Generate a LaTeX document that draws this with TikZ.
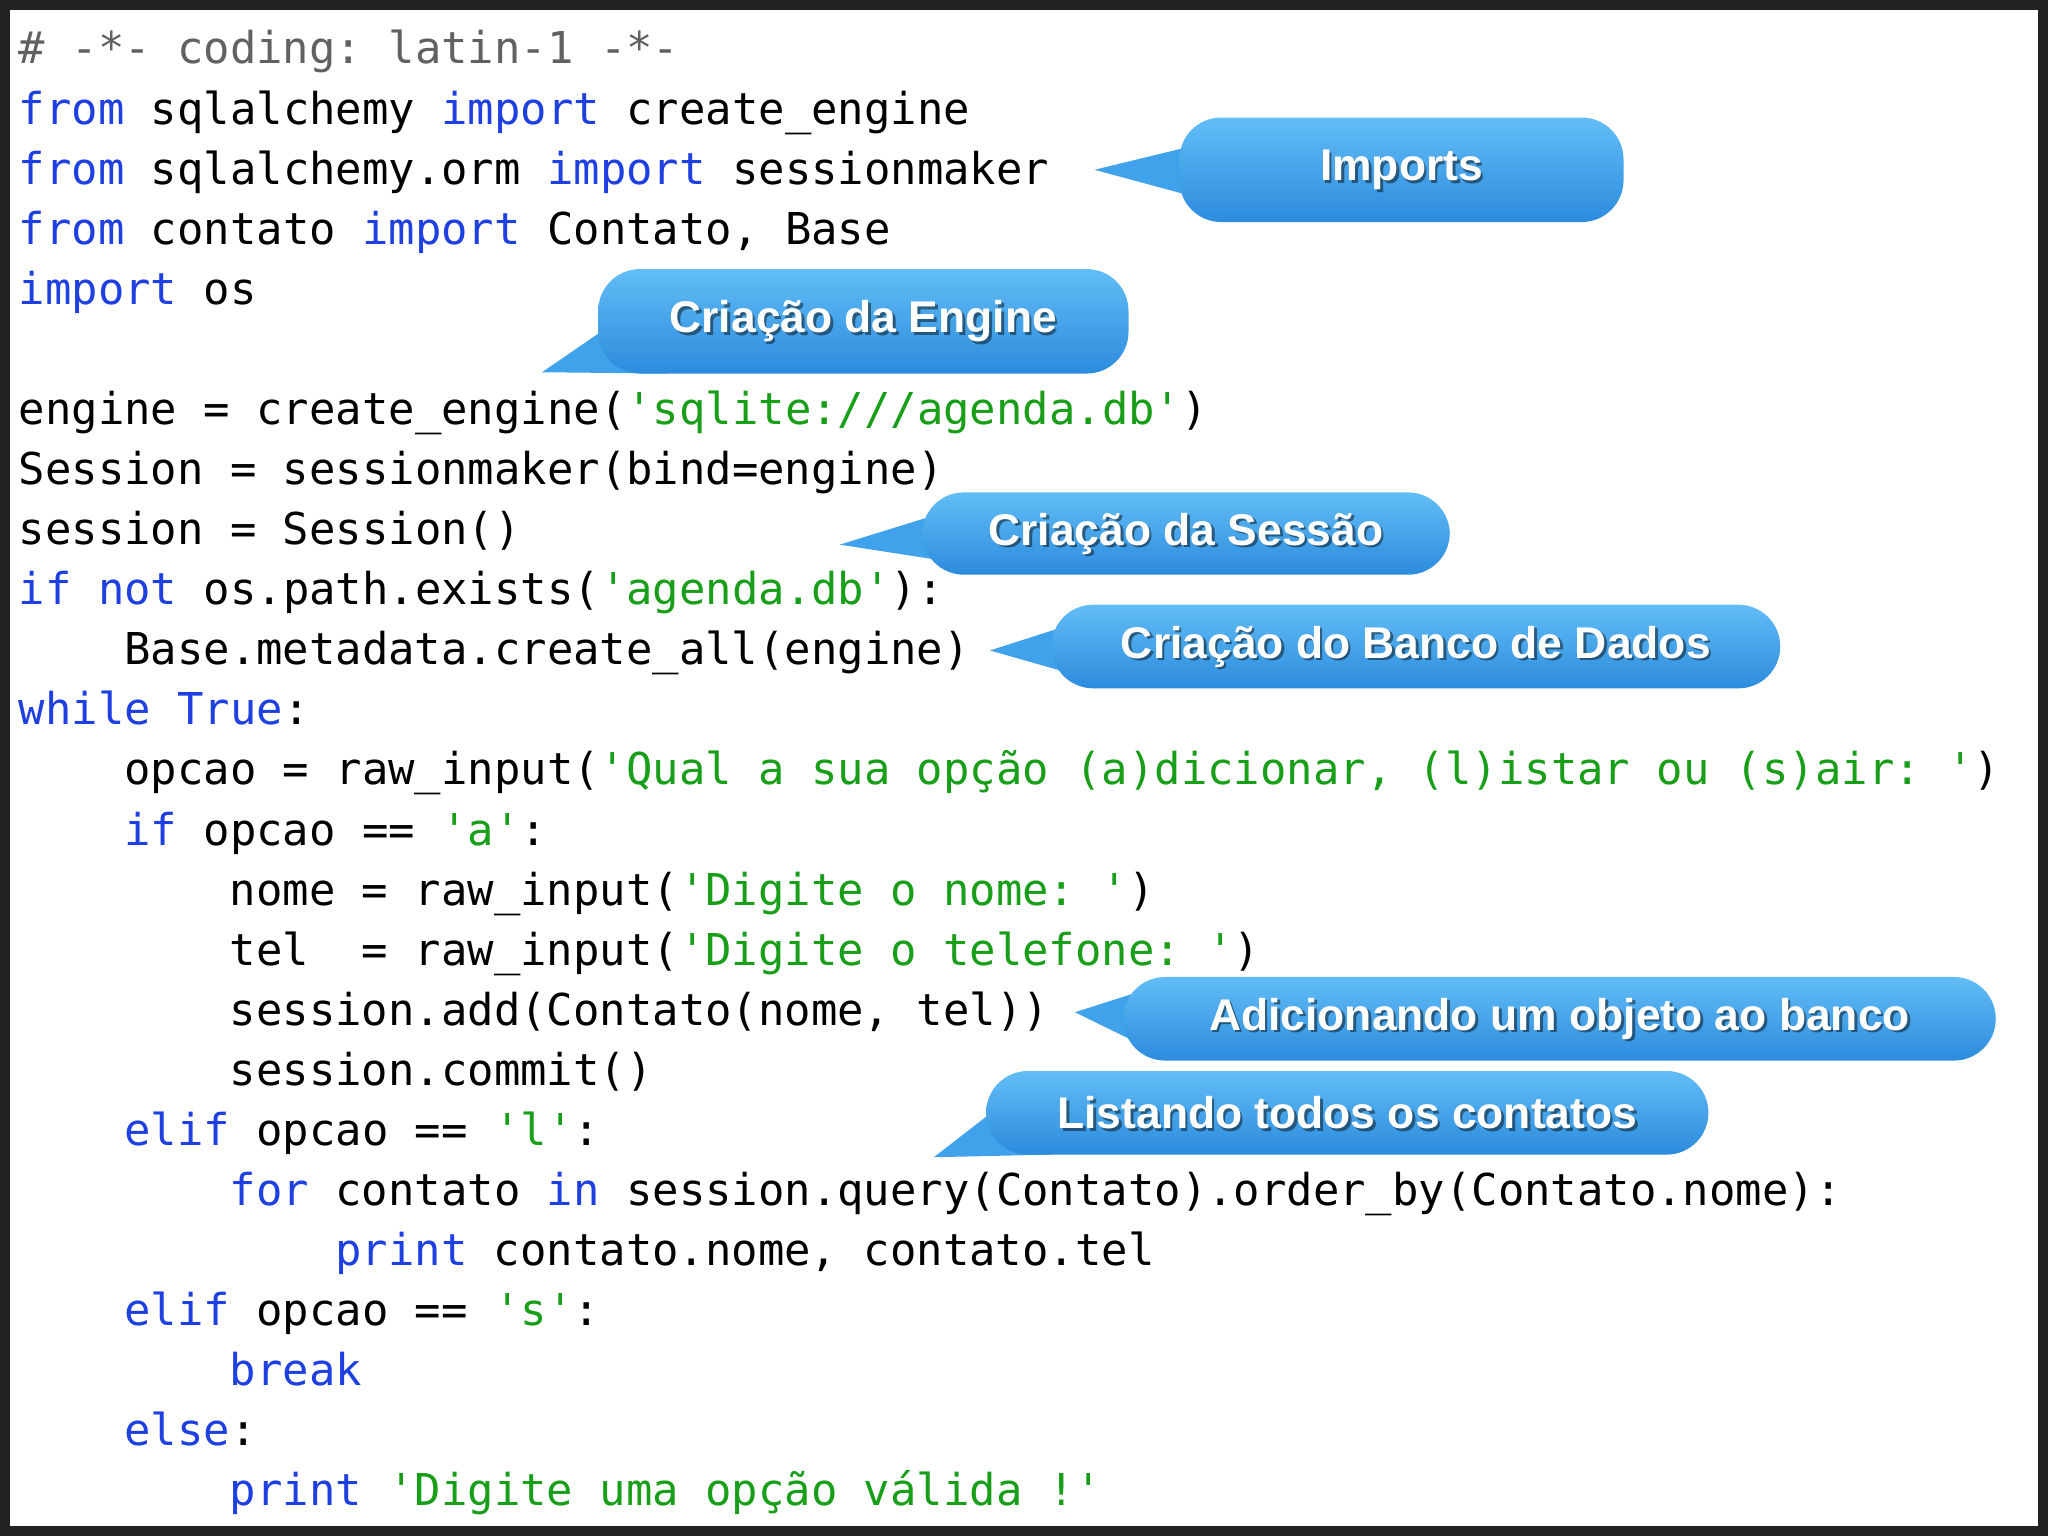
\documentclass[tikz,border=0pt]{standalone}
\usepackage{fontspec}
\setmonofont{DejaVu Sans Mono}
\newfontfamily\calloutfont{Liberation Sans}
\definecolor{kwc}{rgb}{0.12,0.25,0.88}
\definecolor{stc}{rgb}{0.1,0.62,0.1}
\definecolor{cmc}{rgb}{0.38,0.38,0.38}
\definecolor{bgc}{rgb}{0.13,0.13,0.14}
\definecolor{btop}{HTML}{62BDF6}
\definecolor{bbot}{HTML}{2C8BDD}
\definecolor{bmid}{HTML}{3FA2EA}
\newcommand\kw[1]{\textcolor{kwc}{#1}}
\newcommand\st[1]{\textcolor{stc}{#1}}
\newcommand\sq{\char39\relax}
\tikzset{
  codeline/.style={anchor=base west,inner sep=0pt,font=\ttfamily\fontsize{16.8}{20}\selectfont,text=black},
  ctext/.style={font=\calloutfont\bfseries\fontsize{17}{20}\selectfont,text=white,inner sep=0pt},
  cshadow/.style={font=\calloutfont\bfseries\fontsize{17}{20}\selectfont,text=black,opacity=0.45,inner sep=0pt}
}
\newcommand\callout[8]{% x1 y1 x2 y2 tip base1 base2 text
  \fill[bmid] #5 -- #6 -- #7 -- cycle;
  \shade[top color=btop,bottom color=bbot,rounded corners=16] (#1,#2) rectangle (#3,#4);
  \node[cshadow] at ({(#1+#3)/2+2},{(#2+#4)/2+2}) {#8};
  \node[ctext] at ({(#1+#3)/2},{(#2+#4)/2}) {#8};
}
\begin{document}
\begin{tikzpicture}[x=0.5pt,y=-0.5pt]
\useasboundingbox (0,0) rectangle (1568,1176);
\fill[bgc] (0,0) rectangle (1568,1176);
\fill[white] (8,8) rectangle (1560,1168);
\newcommand\cl[4]{\node[codeline] (#1) at ({14+#2*20.2},{38+46*#3+11}) {#4};}
\cl{l0}{0}{0}{\textcolor{cmc}{\# -*- coding: latin-1 -*-}}
\cl{l1}{0}{1}{\kw{from} sqlalchemy \kw{import} create\_engine}
\cl{l2}{0}{2}{\kw{from} sqlalchemy.orm \kw{import} sessionmaker}
\cl{l3}{0}{3}{\kw{from} contato \kw{import} Contato, Base}
\cl{l4}{0}{4}{\kw{import} os}
\cl{l6}{0}{6}{engine = create\_engine(\st{\sq sqlite:///agenda.db\sq})}
\cl{l7}{0}{7}{Session = sessionmaker(bind=engine)}
\cl{l8}{0}{8}{session = Session()}
\cl{l9}{0}{9}{\kw{if} \kw{not} os.path.exists(\st{\sq agenda.db\sq}):}
\cl{l10}{4}{10}{Base.metadata.create\_all(engine)}
\cl{l11}{0}{11}{\kw{while} \kw{True}:}
\cl{l12}{4}{12}{opcao = raw\_input(\st{\sq Qual a sua opção (a)dicionar, (l)istar ou (s)air: \sq})}
\cl{l13}{4}{13}{\kw{if} opcao == \st{\sq a\sq}:}
\cl{l14}{8}{14}{nome = raw\_input(\st{\sq Digite o nome: \sq})}
\cl{l15}{8}{15}{tel\ \ = raw\_input(\st{\sq Digite o telefone: \sq})}
\cl{l16}{8}{16}{session.add(Contato(nome, tel))}
\cl{l17}{8}{17}{session.commit()}
\cl{l18}{4}{18}{\kw{elif} opcao == \st{\sq l\sq}:}
\cl{l19}{8}{19}{\kw{for} contato \kw{in} session.query(Contato).order\_by(Contato.nome):}
\cl{l20}{12}{20}{\kw{print} contato.nome, contato.tel}
\cl{l21}{4}{21}{\kw{elif} opcao == \st{\sq s\sq}:}
\cl{l22}{8}{22}{\kw{break}}
\cl{l23}{4}{23}{\kw{else}:}
\cl{l24}{8}{24}{\kw{print} \st{\sq Digite uma opção válida !\sq}}

\callout{903}{90}{1243}{170}{(838,130)}{(912,112)}{(912,150)}{Imports}
\callout{458}{206}{864}{286}{(415,285)}{(466,250)}{(510,286)}{Criação da Engine}
\callout{706}{377}{1110}{440}{(643,417)}{(714,395)}{(714,428)}{Criação da Sessão}
\callout{805}{463}{1363}{527}{(758,498)}{(814,480)}{(814,514)}{Criação do Banco de Dados}
\callout{860}{748}{1528}{812}{(823,775)}{(870,760)}{(870,798)}{Adicionando um objeto ao banco}
\callout{755}{820}{1308}{884}{(715,886)}{(764,848)}{(805,884)}{Listando todos os contatos}
\end{tikzpicture}
\end{document}
